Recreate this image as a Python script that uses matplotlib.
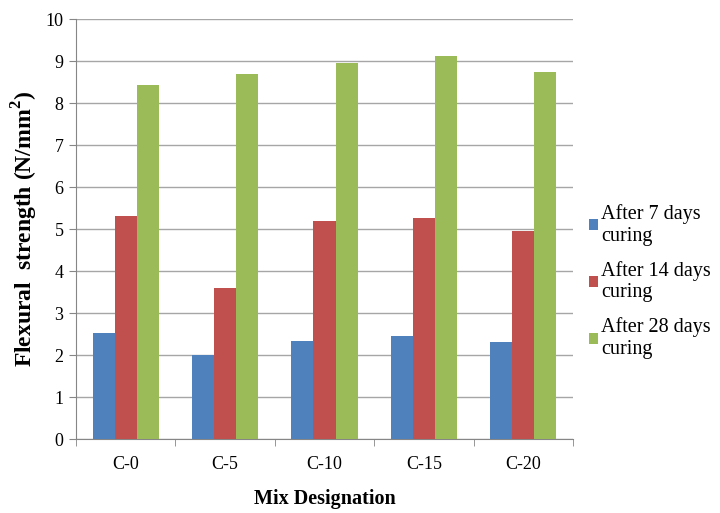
import matplotlib.pyplot as plt
import numpy as np

plt.rcParams['font.family'] = ['Liberation Serif', 'DejaVu Serif']
plt.rcParams['mathtext.fontset'] = 'custom'
plt.rcParams['mathtext.rm'] = 'Liberation Serif'
plt.rcParams['mathtext.bf'] = 'Liberation Serif:bold'

mixes = ['C-0', 'C-5', 'C-10', 'C-15', 'C-20']
days7 = [2.52, 2.0, 2.33, 2.45, 2.3]
days14 = [5.3, 3.6, 5.18, 5.27, 4.96]
days28 = [8.43, 8.68, 8.95, 9.12, 8.74]
labels = ['After 7 days\ncuring', 'After 14 days\ncuring', 'After 28 days\ncuring']
colors = ['#4f81bd', '#c0504d', '#9bbb59']

fig = plt.figure(figsize=(7.2, 5.13), dpi=100)
ax = fig.add_axes([76 / 720, 1 - 439 / 513, 497 / 720, 420 / 513])

x = np.arange(len(mixes))
w = 0.222
for i, (vals, lab, c) in enumerate(zip([days7, days14, days28], labels, colors)):
    ax.bar(x + (i - 1) * w, vals, w, color=c, label=lab, zorder=3)

ax.set_xlim(-0.5, len(mixes) - 0.5)
ax.set_ylim(0, 10)
ax.set_yticks(range(0, 11))
ax.set_xticks(x)
ax.set_xticklabels(mixes)
ax.set_xticks(np.arange(-0.5, len(mixes)), minor=True)
ax.tick_params(axis='x', which='major', length=0, pad=12, labelsize=13)
ax.tick_params(axis='x', which='minor', length=5, color='#868686')
ax.tick_params(axis='y', length=5, color='#868686', labelsize=13, pad=4)

ax.grid(axis='y', color='#a6a6a6', linewidth=1, zorder=0)
ax.spines['top'].set_visible(False)
ax.spines['right'].set_visible(False)
ax.spines['left'].set_color('#868686')
ax.spines['bottom'].set_color('#868686')

ax.set_xlabel('Mix Designation', fontsize=14.5, fontweight='bold', labelpad=12)
ax.set_ylabel(r'Flexural  strength (N/mm$^{\mathbf{2}}$)', fontsize=17,
              fontweight='bold', labelpad=4)

leg = ax.legend(loc='center left', bbox_to_anchor=(1.032, 0.375), frameon=False,
                fontsize=14.5, handlelength=0.45, handleheight=0.45,
                handletextpad=0.15, labelspacing=0.75, borderaxespad=0,
                borderpad=0)

fig.savefig('out.png', dpi=100)
